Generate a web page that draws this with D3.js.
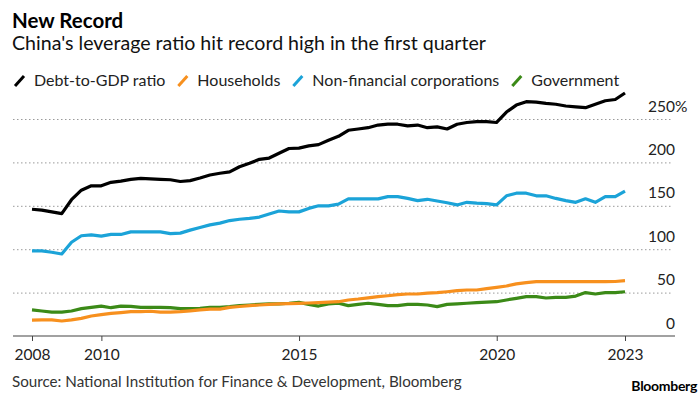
<!DOCTYPE html>
<html>
<head>
<meta charset="utf-8">
<script src="https://cdn.jsdelivr.net/npm/d3@7"></script>
<style>
  body { margin: 0; background: #fff; }
  svg { display: block; font-family: Lato, "Noto Sans", sans-serif; }
</style>
</head>
<body>
<svg id="chart"></svg>
<script>
// quarterly, 2008 Q1 .. 2023 Q1 (% of GDP)
const quarterCount = 61;

const debtToGdp = [146, 145, 143, 141, 157, 168, 173, 173, 177, 178.5,
  180.5, 181.7, 181, 180.5, 180, 178, 179, 182, 185.5, 187.5,
  189, 195, 199, 203.5, 205, 210.5, 216, 216.5, 219, 220.5,
  225.5, 230, 237, 238.5, 240, 243, 244, 244, 242, 243,
  240, 241, 238.5, 244, 246, 247, 247, 246, 258, 266,
  270, 269.5, 268, 267, 265, 264, 263, 267, 271, 272.5, 280];

const households = [18.4, 18.5, 18.5, 17.3, 18.5, 20.3, 23, 24.6, 26, 27,
  28, 28, 28.5, 27.6, 27.6, 28, 29, 30, 31, 31,
  33, 34, 35, 35.7, 36.5, 37, 37.3, 37.7, 38, 38.5,
  39, 39.5, 41.5, 42.6, 44, 45.3, 46.4, 47.6, 48.4, 48.4,
  49.5, 50, 51, 52.2, 53, 53, 54.5, 56, 57.6, 60,
  61.4, 62.6, 62.6, 62.6, 62.6, 62.6, 62.6, 62.6, 62.6, 62.8, 63.7];

const corporations = [98, 98, 96.5, 94.5, 108, 115.5, 116.5, 115, 117, 117,
  120, 120, 120, 120, 118, 118.5, 122, 125, 128, 130,
  133, 134.5, 135.5, 137, 140.5, 144, 143, 143, 147, 150,
  150, 152, 158, 158, 158, 158, 160.5, 160.5, 158.5, 156,
  157.5, 155.5, 153.5, 151, 154, 153, 152.5, 151, 161.5, 164.5,
  164.5, 161.5, 161.5, 158.5, 156, 154, 158, 154, 160.5, 160.5, 167];

const government = [30, 28.8, 27.6, 27.6, 28.8, 31.5, 33, 34.5, 32.6, 34.5,
  34.2, 33, 33, 33, 32.6, 31.5, 31.5, 32, 33, 33,
  33.8, 35, 35.7, 36.5, 37, 37, 37.7, 38.8, 36.5, 34.5,
  37, 37.7, 35, 36.5, 37.7, 36.5, 35, 35, 36.5, 36.5,
  35.7, 33.8, 36.5, 37, 37.7, 38.4, 39, 39.5, 41.5, 43.4,
  45.3, 45.3, 43.8, 44.6, 44.6, 46, 50, 48.4, 50, 50, 51];

const seriesNames = ["Debt-to-GDP ratio", "Households", "Non-financial corporations", "Government"];
const seriesColors = ["#000000", "#f7901e", "#1ba3d8", "#3b8a17"];

const yTicks = [0, 50, 100, 150, 200, 250];
const xTickDates = [new Date(2008, 2, 31), new Date(2010, 0, 1), new Date(2015, 0, 1), new Date(2020, 0, 1), new Date(2023, 2, 31)];
const xTickLabels = ["2008", "2010", "2015", "2020", "2023"];

const width = 700, height = 394;
const plot = { left: 13, right: 675, top: 119, bottom: 336 };

// quarter-end dates
const dates = d3.range(quarterCount).map(i => d3.timeDay.offset(d3.timeMonth.offset(new Date(2008, 3, 1), i * 3), -1));
const series = [debtToGdp, households, corporations, government].map((vals, k) => ({
  name: seriesNames[k],
  color: seriesColors[k],
  values: vals.map((v, i) => ({ date: dates[i], value: v }))
}));

const svg = d3.select("#chart")
    .attr("width", width)
    .attr("height", height);

// scales
const xScale = d3.scaleTime()
    .domain([dates[0], dates[dates.length - 1]])
    .range([32, 625]);

const yScale = d3.scaleLinear()
    .domain([0, 250])
    .range([plot.bottom, plot.top]);

// title block
svg.append("text")
    .attr("x", 12)
    .attr("y", 28)
    .attr("font-weight", "bold")
    .style("font-size", "20.5px")
    .attr("fill", "#000")
    .text("New Record");

svg.append("text")
    .attr("x", 12)
    .attr("y", 50)
    .style("font-size", "19.6px")
    .attr("fill", "#111")
    .text("China's leverage ratio hit record high in the first quarter");

// legend
let lx = 15;
series.forEach(s => {
  svg.append("line")
      .attr("x1", lx).attr("y1", 86)
      .attr("x2", lx + 9).attr("y2", 76)
      .attr("stroke", s.color)
      .attr("stroke-width", 3);
  const t = svg.append("text")
      .attr("x", lx + 19)
      .attr("y", 86)
      .style("font-size", "16px")
      .attr("fill", "#222")
      .text(s.name);
  lx += 19 + t.node().getComputedTextLength() + 13;
});

// y grid + labels
const yAxis = d3.axisRight(yScale)
    .tickValues(yTicks)
    .tickSize(plot.right - 2 - plot.left)
    .tickFormat(d => d);

const yG = svg.append("g")
    .attr("transform", `translate(${plot.left},0)`)
    .call(yAxis);
yG.select(".domain").remove();
yG.selectAll(".tick line")
    .attr("stroke", "#9a9a9a")
    .attr("stroke-dasharray", "1.5,2.5")
    .filter(d => d === 0).remove();
yG.selectAll(".tick text")
    .attr("x", plot.right - plot.left)
    .attr("dy", -8)
    .attr("text-anchor", "end")
    .style("font-size", "15.5px")
    .style("font-family", "Lato, sans-serif")
    .attr("fill", "#222");
yG.selectAll(".tick")
    .filter(d => d === 250)
    .append("text")
    .attr("x", plot.right - plot.left)
    .attr("dy", -8)
    .attr("text-anchor", "start")
    .style("font-size", "15.5px")
    .style("font-family", "Lato, sans-serif")
    .attr("fill", "#222")
    .text("%");

// x axis
svg.append("line")
    .attr("x1", plot.left).attr("x2", plot.right)
    .attr("y1", yScale(0)).attr("y2", yScale(0))
    .attr("stroke", "#444")
    .attr("stroke-width", 1.2);

const xAxis = d3.axisBottom(xScale)
    .tickValues(xTickDates)
    .tickSize(5)
    .tickPadding(8)
    .tickFormat((d, i) => xTickLabels[i]);

const xG = svg.append("g")
    .attr("transform", `translate(0,${yScale(0)})`)
    .call(xAxis);
xG.select(".domain").remove();
xG.selectAll(".tick line").attr("stroke", "#444");
xG.selectAll(".tick text")
    .style("font-size", "15.5px")
    .style("font-family", "Lato, sans-serif")
    .attr("fill", "#222");

// lines
const line = d3.line()
    .x(d => xScale(d.date))
    .y(d => yScale(d.value));

svg.append("g")
  .selectAll(".line")
  .data(series.slice().reverse())
  .join("path")
    .attr("class", "line")
    .attr("fill", "none")
    .attr("stroke", d => d.color)
    .attr("stroke-width", 3.2)
    .attr("stroke-linejoin", "round")
    .attr("d", d => line(d.values));

// footer
svg.append("text")
    .attr("x", 12)
    .attr("y", 387)
    .style("font-size", "15.2px")
    .attr("fill", "#333")
    .text("Source: National Institution for Finance & Development, Bloomberg");

svg.append("text")
    .attr("x", 697)
    .attr("y", 391)
    .attr("text-anchor", "end")
    .attr("font-weight", "bold")
    .style("font-size", "14px")
    .style("letter-spacing", "-0.3px")
    .attr("fill", "#000")
    .text("Bloomberg");
</script>
</body>
</html>
